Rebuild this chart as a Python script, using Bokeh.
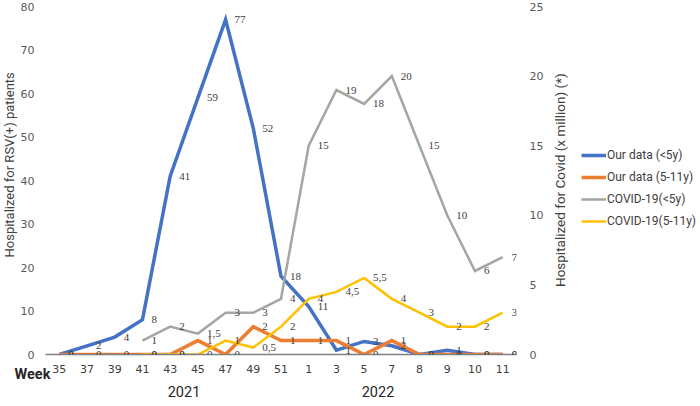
import math
from bokeh.plotting import figure
from bokeh.layouts import row
from bokeh.models import (FactorRange, Range1d, LinearAxis, CategoricalAxis, FixedTicker,
                          ColumnDataSource, LabelSet, Label, Legend, LegendItem, Title)
from bokeh.embed import file_html
from bokeh.resources import INLINE

# ---- data ----
weeks = ["35", "37", "39", "41", "43", "45", "47", "49", "51", "1", "3", "5", "7", "8", "9", "10", "11"]
rsv_u5 = [0, 2, 4, 8, 41, 59, 77, 52, 18, 11, 1, 3, 2, 0, 1, 0, 0]
rsv_5_11 = [0, 0, 0, 0, 0, 1, 0, 2, 1, 1, 1, 0, 1, 0, 0, 0, 0]
covid_u5 = [None, None, None, 1, 2, 1.5, 3, 3, 4, 15, 19, 18, 20, 15, 10, 6, 7]
covid_5_11 = [None, None, None, 0, 0, 0, 1, 0.5, 2, 4, 4.5, 5.5, 4, 3, 2, 2, 3]
series_names = ["Our data (<5y)", "Our data (5-11y)", "COVID-19(<5y)", "COVID-19(5-11y)"]
left_ticks = [0, 10, 20, 30, 40, 50, 60, 70, 80]
right_ticks = [0, 5, 10, 15, 20, 25]
years = ["2021", "2022"]
week_word = "Week"
left_title = "Hospitalized for  RSV(+) patients"
right_title = "Hospitalized for Covid  (x million) (*)"

colors = ["#4472C4", "#ED7D31", "#A5A5A5", "#FFC000"]
widths = [3.5, 3.5, 2.5, 2.5]
label_color = "#404040"
tick_color = "#595959"

W_MAIN, W_SIDE, H = 546, 154, 406
TOP, BOTTOM = 6, 52


def make_source(vals):
    xs = [w for w, v in zip(weeks, vals) if v is not None]
    ys = [v for v in vals if v is not None]
    lbl = [("%g" % v).replace(".", ",") for v in ys]
    return ColumnDataSource(dict(x=xs, y=ys, lbl=lbl))


p = figure(width=W_MAIN, height=H, x_range=FactorRange(factors=weeks),
           y_range=Range1d(0, 80), output_backend="svg", toolbar_location=None,
           min_border_left=44, min_border_right=29, min_border_top=TOP, min_border_bottom=BOTTOM)
p.extra_y_ranges = {"covid": Range1d(0, 25)}
p.extra_x_ranges = {"yrs": FactorRange(factors=years, range_padding=0.214,
                                       range_padding_units="absolute")}
p.outline_line_color = None
p.xgrid.visible = False
p.ygrid.visible = False


def style_axis(ax, standoff, font="DejaVu Sans", size="11px", color=tick_color):
    ax.axis_line_color = None
    ax.major_tick_line_color = None
    ax.minor_tick_line_color = None
    ax.major_tick_out = 0
    ax.major_tick_in = 0
    ax.minor_tick_out = 0
    ax.minor_tick_in = 0
    ax.major_label_standoff = standoff
    ax.major_label_text_font = font
    ax.major_label_text_font_size = size
    ax.major_label_text_color = color


# left axis
ya = p.yaxis[0]
ya.ticker = FixedTicker(ticks=left_ticks)
style_axis(ya, 11)

# left title
p.add_layout(Title(text=left_title, align="left", offset=97, vertical_align="middle",
                   standoff=0, text_font="Roboto", text_font_size="13px",
                   text_font_style="normal", text_color=label_color), "left")

# right axis
ra = LinearAxis(y_range_name="covid", ticker=FixedTicker(ticks=[float(t) for t in right_ticks]))
style_axis(ra, 13)
p.add_layout(ra, "right")

# bottom axis
xa = p.xaxis[0]
style_axis(xa, 10, color=label_color)
xa.axis_line_color = "#7f7f7f"
xa.axis_line_width = 1.5

# "Week" word, on the row of the week numbers
wt = Title(text=week_word, align="left", offset=-31, vertical_align="top",
           text_font="Roboto", text_font_size="14.5px", text_font_style="bold",
           text_color="#262626")
try:
    wt.standoff = -19
except Exception:
    wt.standoff = 0
p.add_layout(wt, "below")

# year row
yr_ax = CategoricalAxis(x_range_name="yrs")
style_axis(yr_ax, 10, font="Roboto", size="14.5px", color="#262626")
p.add_layout(yr_ax, "below")

srcs = [make_source(rsv_u5), make_source(rsv_5_11), make_source(covid_u5), make_source(covid_5_11)]
ranges = ["default", "covid", "covid", "covid"]

for s, c, w, rn in zip(srcs, colors, widths, ranges):
    p.line("x", "y", source=s, line_color=c, line_width=w, y_range_name=rn, line_join="miter")

for s, rn in zip(srcs, ranges):
    ls = LabelSet(x="x", y="y", text="lbl", source=s, y_range_name=rn,
                  x_offset=9, y_offset=0, text_align="left", text_baseline="middle",
                  text_font="DejaVu Sans", text_font_size="11px", text_color=label_color)
    p.add_layout(ls)

# ---- side panel: right-axis title and legend (page pixel coordinates) ----
s2 = figure(width=W_SIDE, height=H, x_range=Range1d(W_MAIN, W_MAIN + W_SIDE),
            y_range=Range1d(H - BOTTOM, TOP), output_backend="svg", toolbar_location=None,
            x_axis_location=None, y_axis_location=None, min_border_left=0,
            min_border_right=0, min_border_top=TOP, min_border_bottom=BOTTOM)
s2.outline_line_color = None
s2.grid.visible = False

s2.add_layout(Label(x=559, y=178, text=right_title, angle=math.pi / 2,
                    text_align="center", text_baseline="middle", text_font="Roboto",
                    text_font_size="13.5px", text_color=label_color))

keys = []
for c, w in zip(colors, widths):
    keys.append(s2.line(x=[float("nan")], y=[float("nan")], line_color=c, line_width=w))

legend = Legend(items=[LegendItem(label=n, renderers=[r]) for n, r in zip(series_names, keys)],
                location=(35, 126), padding=0, margin=0, spacing=8, glyph_width=25,
                glyph_height=14, label_height=14, label_standoff=1, label_text_font="Roboto",
                label_text_font_size="12px", label_text_color=label_color,
                border_line_color=None, background_fill_alpha=0)
s2.add_layout(legend)

layout = row(p, s2)
open("out.html", "w").write(file_html(layout, INLINE))
